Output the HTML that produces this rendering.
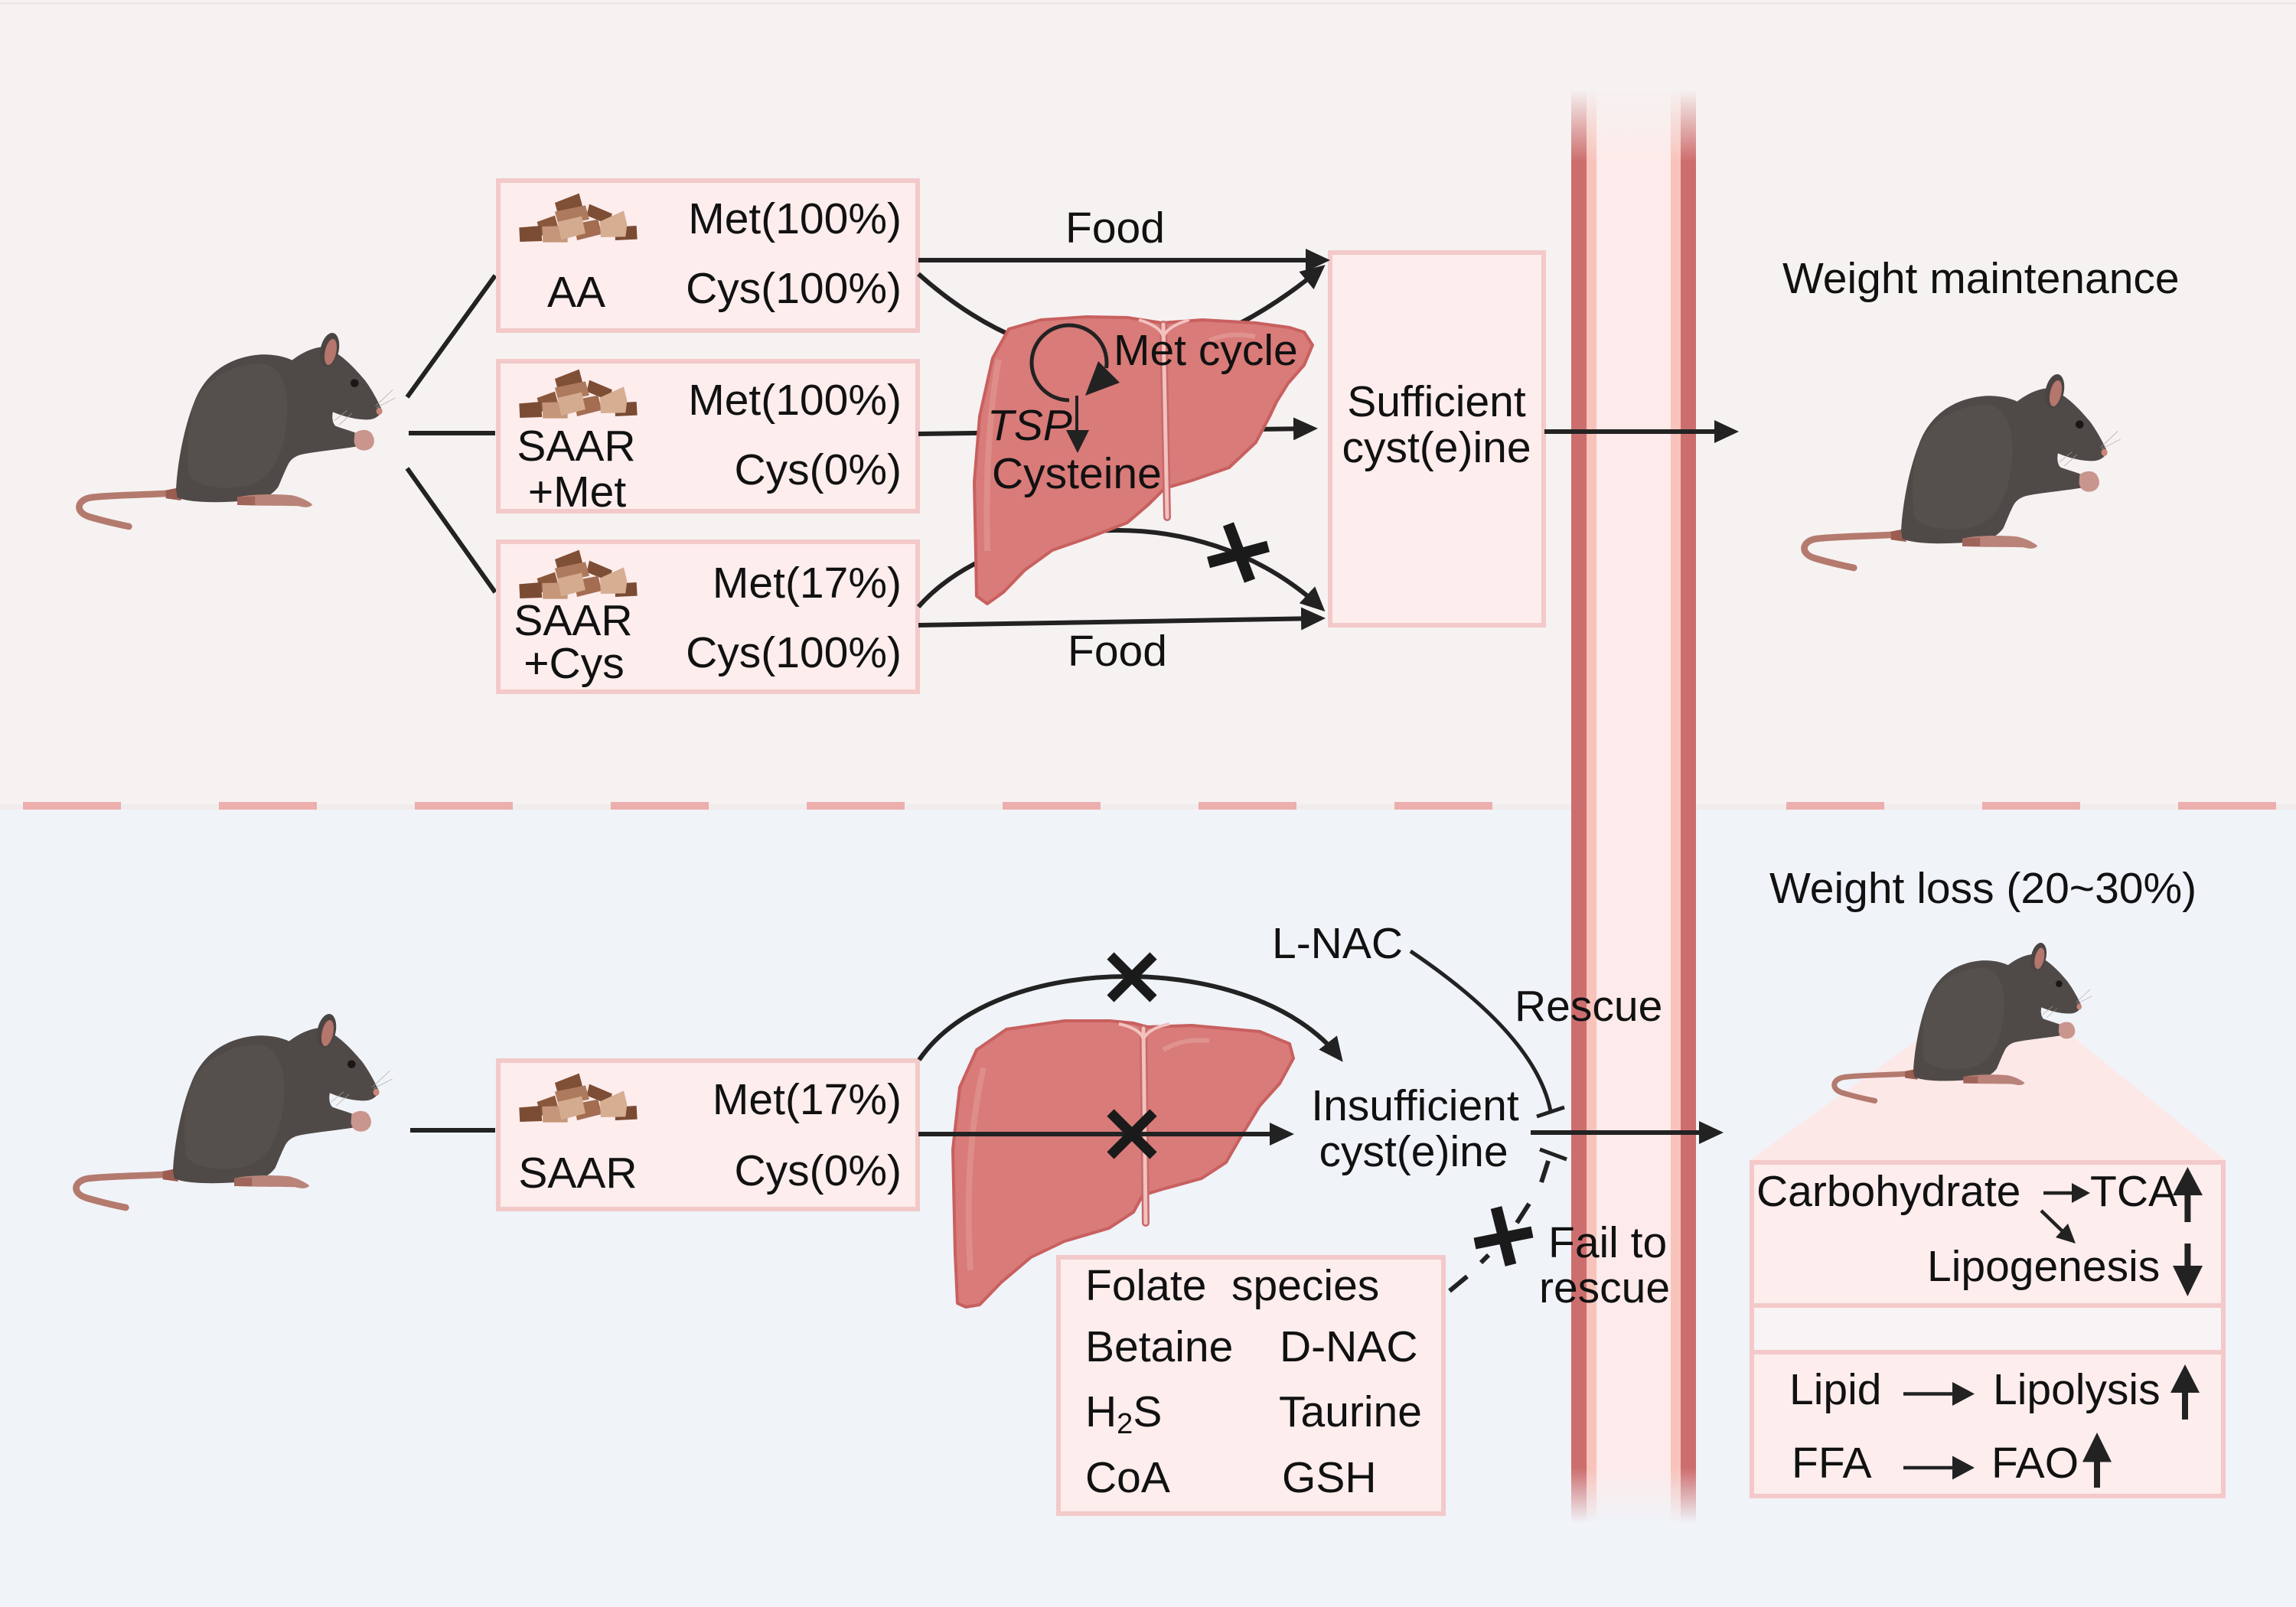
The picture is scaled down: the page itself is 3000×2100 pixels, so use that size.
<!DOCTYPE html>
<html>
<head>
<meta charset="utf-8">
<style>
html,body{margin:0;padding:0;width:3000px;height:2100px;overflow:hidden;background:#f6f2f1;}
svg{display:block;}
</style>
</head>
<body>
<svg width="3000" height="2100" viewBox="0 0 3000 2100" xmlns="http://www.w3.org/2000/svg" xmlns:xlink="http://www.w3.org/1999/xlink" font-family="'Liberation Sans', Arial, sans-serif" font-size="57" fill="#111">
<defs>
  <marker id="ah" markerUnits="userSpaceOnUse" markerWidth="32" markerHeight="30" viewBox="0 0 32 30" refX="26" refY="15" orient="auto">
    <path d="M0,0 L32,15 L0,30 Z" fill="#222"/>
  </marker>
  <linearGradient id="barGrad" gradientUnits="userSpaceOnUse" x1="0" y1="117" x2="0" y2="1990">
    <stop offset="0" stop-color="#000"/>
    <stop offset="0.05" stop-color="#fff"/>
    <stop offset="0.962" stop-color="#fff"/>
    <stop offset="1" stop-color="#000"/>
  </linearGradient>
  <mask id="barMask" maskUnits="userSpaceOnUse" x="2040" y="0" width="200" height="2100">
    <rect x="2040" y="100" width="200" height="1900" fill="url(#barGrad)"/>
  </mask>

  <g id="mouse">
    <path d="M458,672 C360,680 200,680 120,690 C60,698 52,748 110,766 C170,784 220,795 265,804" fill="none" stroke="#b47a6e" stroke-width="26" stroke-linecap="round"/>
    <path d="M410,662 L470,650 L470,702 L410,694 Z" fill="#9a5d50"/>
    <path d="M450,660 C455,560 480,420 520,320 C560,210 650,140 780,130 C850,128 890,145 905,152 C940,125 980,105 1020,100 C1080,110 1140,170 1190,230 C1220,270 1245,320 1258,348 C1250,370 1230,385 1200,385 C1150,385 1100,370 1065,355 C1060,380 1065,400 1075,410 C1100,420 1140,430 1160,440 L1160,490 C1100,500 1000,510 950,520 C920,525 900,540 890,560 C870,600 860,630 850,650 C820,690 780,700 700,705 C600,712 500,710 455,690 Z" fill="#4f4a47"/>
    <path d="M520,330 C560,230 660,170 780,165 C880,170 900,300 880,420 C860,560 800,640 700,650 C600,660 520,640 500,600 C490,500 495,400 520,330 Z" fill="#56504d"/>
    <path d="M690,690 C740,676 850,676 905,682 C935,688 965,702 985,718 C975,732 950,730 930,724 C880,722 780,724 700,720 Z" fill="#b98379"/>
    <path d="M690,688 L760,686 L760,720 L690,720 Z" fill="#a0655a"/>
    <path d="M1150,440 C1170,420 1210,420 1220,445 C1235,470 1225,500 1195,505 C1170,510 1150,495 1148,470 Z" fill="#c9958c"/>
    <ellipse cx="1052" cy="112" rx="36" ry="68" transform="rotate(12 1052 112)" fill="#4a4542"/>
    <ellipse cx="1056" cy="120" rx="22" ry="52" transform="rotate(12 1056 120)" fill="#b4766d"/>
    <circle cx="1150" cy="242" r="16" fill="#1b1716"/>
    <ellipse cx="1247" cy="352" rx="12" ry="14" fill="#c98579"/>
    <g stroke="#a8a4a2" stroke-width="2" fill="none">
      <path d="M1232,332 L1300,268"/><path d="M1236,338 L1310,300"/><path d="M1120,350 L1070,390"/><path d="M1140,360 L1090,405"/>
    </g>
  </g>

  <g id="food">
    <polygon points="195,75 290,38 305,95 210,130" fill="#7f4f36"/>
    <polygon points="330,80 420,118 405,160 320,125" fill="#7d4d35"/>
    <polygon points="125,150 195,125 210,180 140,205" fill="#8a573c"/>
    <polygon points="55,172 140,165 145,225 58,228" fill="#7b4b33"/>
    <polygon points="430,170 515,165 518,218 432,222" fill="#7a4a32"/>
    <polygon points="195,110 315,85 330,140 210,165" fill="#ad7a5e"/>
    <polygon points="270,158 365,140 378,198 282,222" fill="#a46d51"/>
    <polygon points="145,168 245,165 245,230 148,230" fill="#c59679"/>
    <polygon points="372,148 465,106 478,160 472,208 375,210" fill="#d6ae92"/>
    <polygon points="205,150 300,128 315,195 220,220" fill="#d4ab8f"/>
  </g>
</defs>

<!-- backgrounds -->
<rect x="0" y="0" width="3000" height="1058" fill="#f6f2f1"/>
<rect x="0" y="3" width="3000" height="3" fill="#efe9e8"/>
<rect x="0" y="1051" width="3000" height="7" fill="#f1ecec"/>
<rect x="0" y="1058" width="3000" height="1042" fill="#f0f3f8"/>
<line x1="30" y1="1053" x2="3000" y2="1053" stroke="#edaeae" stroke-width="10" stroke-dasharray="128 128"/>

<!-- vertical bar -->
<g mask="url(#barMask)">
  <rect x="2053" y="100" width="163" height="1900" fill="#fdeaea"/>
  <rect x="2053" y="100" width="20" height="1900" fill="#cd6e6e"/>
  <rect x="2073" y="100" width="13" height="1900" fill="#f7c3bb"/>
  <rect x="2183" y="100" width="13" height="1900" fill="#f7c3bb"/>
  <rect x="2196" y="100" width="20" height="1900" fill="#cd6e6e"/>
</g>

<!-- mice -->
<use xlink:href="#mouse" href="#mouse" transform="translate(80,420) scale(0.3333)"/>
<use xlink:href="#mouse" href="#mouse" transform="translate(2334,474) scale(0.3333)"/>
<use xlink:href="#mouse" href="#mouse" transform="translate(76,1310) scale(0.3333)"/>

<!-- lines from mouse 1 -->
<g stroke="#222" stroke-width="6" fill="none">
  <line x1="532" y1="519" x2="647" y2="360"/>
  <line x1="534" y1="566" x2="647" y2="566"/>
  <line x1="532" y1="612" x2="647" y2="774"/>
  <line x1="536" y1="1477" x2="647" y2="1477"/>
</g>

<!-- diet boxes -->
<g fill="#fdeded" stroke="#f3c9c9" stroke-width="6">
  <rect x="651" y="236" width="548" height="196"/>
  <rect x="651" y="472" width="548" height="196"/>
  <rect x="651" y="708" width="548" height="196"/>
  <rect x="651" y="1386" width="548" height="194"/>
  <rect x="1738" y="330" width="279" height="487"/>
  <rect x="1383" y="1643" width="503" height="335"/>
</g>
<use xlink:href="#food" href="#food" transform="translate(660,240) scale(0.3333)"/>
<use xlink:href="#food" href="#food" transform="translate(660,470) scale(0.3333)"/>
<use xlink:href="#food" href="#food" transform="translate(660,706) scale(0.3333)"/>
<use xlink:href="#food" href="#food" transform="translate(660,1390) scale(0.3333)"/>

<!-- box texts -->
<text x="1178" y="305" text-anchor="end">Met(100%)</text>
<text x="1178" y="396" text-anchor="end">Cys(100%)</text>
<text x="753" y="401" text-anchor="middle">AA</text>
<text x="1178" y="542" text-anchor="end">Met(100%)</text>
<text x="753" y="602" text-anchor="middle">SAAR</text>
<text x="754" y="662" text-anchor="middle">+Met</text>
<text x="1178" y="633" text-anchor="end">Cys(0%)</text>
<text x="1178" y="781" text-anchor="end">Met(17%)</text>
<text x="749" y="830" text-anchor="middle">SAAR</text>
<text x="750" y="886" text-anchor="middle">+Cys</text>
<text x="1178" y="872" text-anchor="end">Cys(100%)</text>
<text x="1178" y="1456" text-anchor="end">Met(17%)</text>
<text x="755" y="1552" text-anchor="middle">SAAR</text>
<text x="1178" y="1549" text-anchor="end">Cys(0%)</text>

<!-- top arrows (behind liver) -->
<g stroke="#222" stroke-width="6" fill="none">
  <line x1="1200" y1="340" x2="1732" y2="340" marker-end="url(#ah)"/>
  <path d="M1200,358 Q1450,580 1727,350" marker-end="url(#ah)"/>
  <line x1="1200" y1="567" x2="1716" y2="560" marker-end="url(#ah)"/>
  <path d="M1200,793 C1300,680 1560,640 1727,795" marker-end="url(#ah)"/>
  <line x1="1200" y1="817" x2="1726" y2="808" marker-end="url(#ah)"/>
  <line x1="2018" y1="564" x2="2266" y2="564" marker-end="url(#ah)"/>
</g>
<g stroke="#1a1a1a" stroke-width="15" stroke-linecap="butt">
  <line x1="1579" y1="735" x2="1657" y2="714"/>
  <line x1="1605" y1="685" x2="1633" y2="759"/>
</g>
<text x="1392" y="317">Food</text>
<text x="1395" y="870">Food</text>

<!-- top liver -->
<path d="M1318,430 L1360,418 L1420,414 L1473,415 L1518,422 L1571,418 L1641,422 L1685,428 L1704,434 L1715,451 L1704,477 L1683,501 L1668,525 L1659,544 L1641,578 L1606,611 L1557,628 L1522,638 L1501,659 L1473,683 L1424,702 L1375,719 L1339,745 L1311,774 L1290,789 L1276,779 L1275,726 L1273,630 L1280,544 L1297,468 Z" fill="#d87b79" stroke="#c8605f" stroke-width="4" stroke-linejoin="round"/>
<path d="M1305,470 C1292,540 1288,620 1290,720" fill="none" stroke="#e29995" stroke-width="8" opacity="0.6"/>
<path d="M1580,445 C1600,436 1620,436 1640,440" fill="none" stroke="#e6a29e" stroke-width="6" opacity="0.6"/>
<line x1="1520" y1="424" x2="1525" y2="676" stroke="#c8686a" stroke-width="10" stroke-linecap="round"/>
<line x1="1520" y1="424" x2="1525" y2="676" stroke="#f2c2be" stroke-width="5" stroke-linecap="round"/>
<path d="M1488,418 Q1516,426 1520,440 Q1526,426 1554,418" fill="none" stroke="#f2c2be" stroke-width="4"/>

<!-- liver annotations -->
<path d="M1397,523 A49,49 0 1 1 1445.5,481" fill="none" stroke="#222" stroke-width="5"/>
<polygon points="1435,472 1463,500 1418,517" fill="#222"/>
<line x1="1407" y1="517" x2="1407" y2="565" stroke="#222" stroke-width="4"/>
<polygon points="1393,562 1423,562 1408,592" fill="#222"/>
<text x="1455" y="477">Met cycle</text>
<text x="1290" y="575" font-style="italic">TSP</text>
<text x="1296" y="638">Cysteine</text>

<text x="1877" y="544" text-anchor="middle">Sufficient</text>
<text x="1877" y="604" text-anchor="middle">cyst(e)ine</text>
<text x="2329" y="383">Weight maintenance</text>

<!-- bottom section -->
<path d="M1201,1385 C1300,1240 1640,1240 1751,1383" fill="none" stroke="#222" stroke-width="6" marker-end="url(#ah)"/>

<path d="M1276,1372 L1315,1345 L1391,1334 L1450,1334 L1481,1337 L1500,1342 L1557,1340 L1646,1348 L1685,1364 L1690,1383 L1672,1416 L1646,1445 L1621,1486 L1602,1519 L1570,1540 L1519,1554 L1493,1562 L1481,1584 L1449,1605 L1391,1622 L1347,1643 L1308,1676 L1280,1705 L1262,1708 L1251,1703 L1248,1638 L1245,1502 L1254,1421 Z" fill="#d87b79" stroke="#c8605f" stroke-width="4" stroke-linejoin="round"/>
<path d="M1285,1395 C1268,1470 1262,1560 1268,1660" fill="none" stroke="#e29995" stroke-width="8" opacity="0.6"/>
<path d="M1520,1372 C1540,1360 1560,1358 1580,1360" fill="none" stroke="#e6a29e" stroke-width="6" opacity="0.6"/>
<line x1="1494" y1="1344" x2="1497" y2="1598" stroke="#c8686a" stroke-width="10" stroke-linecap="round"/>
<line x1="1494" y1="1344" x2="1497" y2="1598" stroke="#f2c2be" stroke-width="5" stroke-linecap="round"/>
<path d="M1462,1338 Q1490,1344 1494,1358 Q1500,1344 1528,1338" fill="none" stroke="#f2c2be" stroke-width="4"/>

<line x1="1200" y1="1482" x2="1685" y2="1482" stroke="#222" stroke-width="6" marker-end="url(#ah)"/>
<g stroke="#1a1a1a" stroke-width="13">
  <line x1="1451" y1="1249" x2="1507" y2="1305"/>
  <line x1="1507" y1="1249" x2="1451" y2="1305"/>
  <line x1="1451" y1="1454" x2="1507" y2="1510"/>
  <line x1="1507" y1="1454" x2="1451" y2="1510"/>
</g>

<text x="1849" y="1464" text-anchor="middle">Insufficient</text>
<text x="1847" y="1524" text-anchor="middle">cyst(e)ine</text>
<line x1="2000" y1="1480" x2="2246" y2="1480" stroke="#222" stroke-width="6" marker-end="url(#ah)"/>

<text x="1662" y="1252">L-NAC</text>
<path d="M1843,1243 C1920,1295 2010,1370 2026,1452" fill="none" stroke="#222" stroke-width="5"/>
<line x1="2008" y1="1459" x2="2044" y2="1447" stroke="#222" stroke-width="5"/>
<text x="1979" y="1334">Rescue</text>

<g stroke="#222" stroke-width="6">
  <line x1="2023" y1="1517" x2="2014" y2="1545"/>
  <line x1="1998" y1="1573" x2="1982" y2="1598"/>
  <line x1="1917" y1="1668" x2="1894" y2="1687"/>
  <line x1="1945" y1="1640" x2="1935" y2="1650"/>
  <line x1="2012" y1="1502" x2="2047" y2="1515" stroke-width="5"/>
</g>
<g stroke="#1a1a1a" stroke-width="15">
  <line x1="1927" y1="1625" x2="2002" y2="1610"/>
  <line x1="1955" y1="1578" x2="1974" y2="1653"/>
</g>
<text x="2023" y="1643">Fail to</text>
<text x="2011" y="1702">rescue</text>

<text x="1418" y="1699">Folate</text>
<text x="1609" y="1699">species</text>
<text x="1418" y="1779">Betaine</text>
<text x="1672" y="1779">D-NAC</text>
<text x="1418" y="1864">H<tspan font-size="38" dy="9">2</tspan><tspan dy="-9">S</tspan></text>
<text x="1671" y="1864">Taurine</text>
<text x="1418" y="1950">CoA</text>
<text x="1675" y="1950">GSH</text>

<!-- bottom right -->
<text x="2312" y="1180">Weight loss (20~30%)</text>
<polygon points="2286,1516 2515,1352 2705,1352 2908,1516" fill="#fde8e8"/>
<use xlink:href="#mouse" href="#mouse" transform="translate(2377.6,1219.8) scale(0.272)"/>
<rect x="2289" y="1519" width="616" height="436" fill="#fdeded" stroke="#f3c9c9" stroke-width="6"/>
<rect x="2292" y="1709" width="610" height="55" fill="#f8f3f5"/>
<line x1="2289" y1="1706" x2="2905" y2="1706" stroke="#f3c9c9" stroke-width="6"/>
<line x1="2289" y1="1767" x2="2905" y2="1767" stroke="#f3c9c9" stroke-width="6"/>

<text x="2295" y="1576">Carbohydrate</text>
<text x="2731" y="1576">TCA</text>
<text x="2518" y="1674">Lipogenesis</text>
<text x="2338" y="1835">Lipid</text>
<text x="2604" y="1835">Lipolysis</text>
<text x="2341" y="1931">FFA</text>
<text x="2602" y="1931">FAO</text>

<g stroke="#222" stroke-width="4.5">
  <line x1="2670" y1="1559" x2="2712" y2="1559"/>
  <line x1="2667" y1="1582" x2="2698" y2="1612"/>
  <line x1="2487" y1="1821.5" x2="2555" y2="1821.5"/>
  <line x1="2487" y1="1918" x2="2555" y2="1918"/>
</g>
<g fill="#222">
  <polygon points="2707,1546 2731,1559 2707,1572"/>
  <polygon points="2712,1625 2686,1617 2702,1599"/>
  <polygon points="2551,1806 2580,1821.5 2551,1837"/>
  <polygon points="2551,1902.5 2580,1918 2551,1933.5"/>
  <rect x="2854.4" y="1558" width="8" height="39"/>
  <polygon points="2839,1562 2878,1562 2858.4,1525"/>
  <rect x="2854.4" y="1625" width="8" height="32"/>
  <polygon points="2839,1654 2878,1654 2858.4,1694"/>
  <rect x="2851" y="1816" width="8" height="39"/>
  <polygon points="2836,1820 2874,1820 2855,1783"/>
  <rect x="2736" y="1906" width="8" height="38"/>
  <polygon points="2721,1910.5 2759,1910.5 2740,1872"/>
</g>
</svg>
</body>
</html>
